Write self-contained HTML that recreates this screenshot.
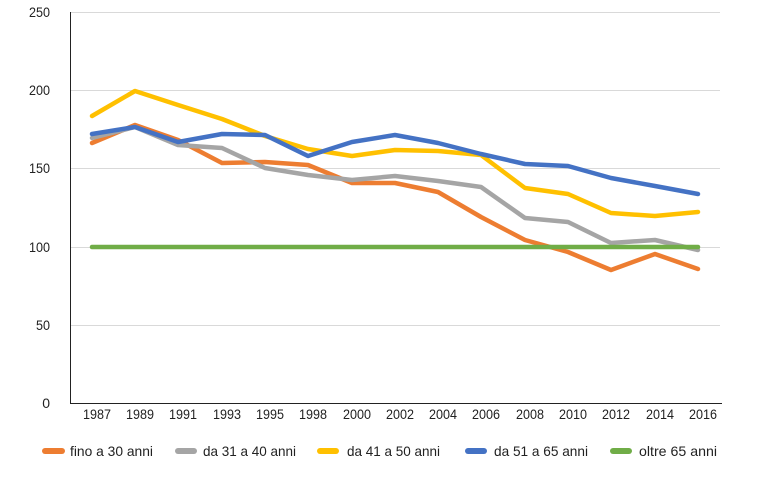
<!DOCTYPE html><html><head><style>body{margin:0;background:#fff}svg{display:block}text{font-family:"Liberation Sans",sans-serif;fill:#222}</style></head><body>
<svg width="776" height="486" viewBox="0 0 776 486">
<g stroke="#d9d9d9" stroke-width="1">
<line x1="70" y1="12.5" x2="720" y2="12.5"/><line x1="70" y1="90.5" x2="720" y2="90.5"/><line x1="70" y1="168.5" x2="720" y2="168.5"/><line x1="70" y1="247.5" x2="720" y2="247.5"/><line x1="70" y1="325.5" x2="720" y2="325.5"/>
</g>
<line x1="70.5" y1="12" x2="70.5" y2="403" stroke="#222"/>
<line x1="70" y1="403.5" x2="722" y2="403.5" stroke="#222"/>
<g text-anchor="end" font-size="14"><text x="50" y="17" textLength="21" lengthAdjust="spacingAndGlyphs">250</text><text x="50" y="95" textLength="21" lengthAdjust="spacingAndGlyphs">200</text><text x="50" y="173" textLength="21" lengthAdjust="spacingAndGlyphs">150</text><text x="50" y="252" textLength="21" lengthAdjust="spacingAndGlyphs">100</text><text x="50" y="330" textLength="14" lengthAdjust="spacingAndGlyphs">50</text><text x="50" y="408">0</text></g>
<g text-anchor="middle" font-size="14">
<text x="97" y="419" textLength="28" lengthAdjust="spacingAndGlyphs">1987</text><text x="140" y="419" textLength="28" lengthAdjust="spacingAndGlyphs">1989</text><text x="183" y="419" textLength="28" lengthAdjust="spacingAndGlyphs">1991</text><text x="227" y="419" textLength="28" lengthAdjust="spacingAndGlyphs">1993</text><text x="270" y="419" textLength="28" lengthAdjust="spacingAndGlyphs">1995</text><text x="313" y="419" textLength="28" lengthAdjust="spacingAndGlyphs">1998</text><text x="357" y="419" textLength="28" lengthAdjust="spacingAndGlyphs">2000</text><text x="400" y="419" textLength="28" lengthAdjust="spacingAndGlyphs">2002</text><text x="443" y="419" textLength="28" lengthAdjust="spacingAndGlyphs">2004</text><text x="486" y="419" textLength="28" lengthAdjust="spacingAndGlyphs">2006</text><text x="530" y="419" textLength="28" lengthAdjust="spacingAndGlyphs">2008</text><text x="573" y="419" textLength="28" lengthAdjust="spacingAndGlyphs">2010</text><text x="616" y="419" textLength="28" lengthAdjust="spacingAndGlyphs">2012</text><text x="660" y="419" textLength="28" lengthAdjust="spacingAndGlyphs">2014</text><text x="703" y="419" textLength="28" lengthAdjust="spacingAndGlyphs">2016</text></g>
<g fill="none" stroke-width="4.5" stroke-linejoin="round" stroke-linecap="round">
<polyline stroke="#ed7d31" points="92,143 135,125 178,140 222,163 265,162 308,165 352,183 395,183 438,192 481,217 525,240 568,252 611,270 655,254 698,269"/>
<polyline stroke="#a5a5a5" points="92,138 135,127 178,145 222,148 265,168 308,175 352,180 395,176 438,181 481,187 525,218 568,222 611,243 655,240 698,250"/>
<polyline stroke="#ffc000" points="92,116 135,91 178,105 222,119 265,136 308,149 352,156 395,150 438,151 481,155 525,188 568,194 611,213 655,216 698,212"/>
<polyline stroke="#4472c4" points="92,134 135,127 178,142 222,134 265,135 308,156 352,142 395,135 438,143 481,154 525,164 568,166 611,178 655,186 698,194"/>
<polyline stroke="#70ad47" points="92,247 698,247"/>
</g>
<g stroke-width="6" stroke-linecap="round">
<line x1="45" y1="451" x2="62" y2="451" stroke="#ed7d31"/><line x1="178" y1="451" x2="194" y2="451" stroke="#a5a5a5"/><line x1="320" y1="451" x2="336" y2="451" stroke="#ffc000"/><line x1="468" y1="451" x2="484" y2="451" stroke="#4472c4"/><line x1="613" y1="451" x2="629" y2="451" stroke="#70ad47"/>
</g>
<g font-size="14">
<text x="70" y="456" textLength="83" lengthAdjust="spacingAndGlyphs">fino a 30 anni</text><text x="203" y="456" textLength="93" lengthAdjust="spacingAndGlyphs">da 31 a 40 anni</text><text x="347" y="456" textLength="93" lengthAdjust="spacingAndGlyphs">da 41 a 50 anni</text><text x="494" y="456" textLength="94" lengthAdjust="spacingAndGlyphs">da 51 a 65 anni</text><text x="639" y="456" textLength="78" lengthAdjust="spacingAndGlyphs">oltre 65 anni</text></g>
</svg></body></html>
